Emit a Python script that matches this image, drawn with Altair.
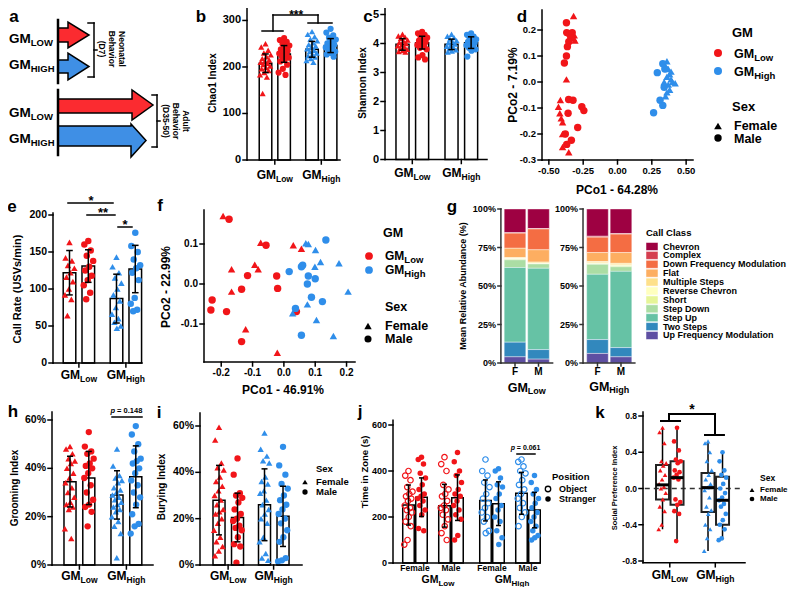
import altair as alt
import pandas as pd

FONT = "Liberation Sans"
RED = "#F11519"
BLUE = "#2F8EEA"
RED_ARROW = "#FB2B30"
BLUE_ARROW = "#3F8FE5"

# ---------------- data ----------------
GROUPS = ["Low", "High"]
SEXES = ["F", "M"]

chao_LF = [250, 243, 236, 230, 226, 222, 218, 215, 212, 210, 208, 205, 202, 199, 196, 192, 188, 183, 178, 143]
chao_LM = [262, 258, 254, 250, 246, 242, 238, 235, 232, 229, 226, 223, 220, 216, 212, 205, 196, 188, 183]
chao_HF = [276, 270, 265, 260, 256, 252, 248, 245, 242, 239, 236, 233, 230, 227, 224, 221, 218, 214, 210]
chao_HM = [282, 274, 268, 263, 259, 255, 251, 248, 245, 242, 239, 236, 233, 230, 227, 222]
chao_means = [208, 228, 238, 246]
chao_errs = [20, 18, 17, 15]

shan_LF = [4.32, 4.26, 4.22, 4.18, 4.12, 4.08, 4.04, 4.0, 3.96, 3.92, 3.88, 3.84, 3.8, 3.76, 3.72, 3.7]
shan_LM = [4.4, 4.35, 4.3, 4.25, 4.2, 4.15, 4.1, 4.05, 4.0, 3.95, 3.9, 3.85, 3.8, 3.6, 3.52, 3.45]
shan_HF = [4.32, 4.25, 4.2, 4.15, 4.1, 4.06, 4.02, 3.98, 3.94, 3.9, 3.86, 3.82, 3.78, 3.74, 3.7]
shan_HM = [4.35, 4.3, 4.24, 4.18, 4.14, 4.1, 4.06, 4.02, 3.98, 3.94, 3.9, 3.85, 3.8, 3.75, 3.55]
shan_means = [3.97, 4.03, 3.97, 4.03]
shan_errs = [0.2, 0.22, 0.18, 0.2]

d_low_x = [-0.32, -0.372, -0.37, -0.35, -0.33, -0.315, -0.34, -0.32, -0.31, -0.355, -0.365, -0.372, -0.387,
           -0.372, -0.416, -0.356, -0.324, -0.26, -0.245, -0.43, -0.42, -0.41, -0.40, -0.36, -0.29, -0.40,
           -0.38, -0.336, -0.37, -0.40, -0.355]
d_low_y = [0.254, 0.228, 0.19, 0.185, 0.19, 0.18, 0.17, 0.168, 0.16, 0.155, 0.136, 0.10, 0.073, 0.01, -0.069,
           -0.067, -0.07, -0.095, -0.11, -0.095, -0.12, -0.14, -0.155, -0.12, -0.175, -0.20, -0.20, -0.224,
           -0.24, -0.25, -0.27]
d_low_sex = ["F", "M", "M", "M", "M", "F", "M", "F", "F", "M", "M", "M", "M", "F", "F", "M", "M", "M", "M", "F",
             "F", "F", "F", "M", "M", "F", "M", "M", "M", "F", "F"]
d_high_x = [0.29, 0.36, 0.35, 0.37, 0.38, 0.36, 0.39, 0.40, 0.42, 0.37, 0.38, 0.36, 0.35, 0.34, 0.345, 0.33,
            0.31, 0.33, 0.263, 0.39, 0.34]
d_high_y = [0.036, 0.08, 0.06, 0.05, 0.03, 0.02, 0.01, 0.0, -0.005, -0.01, -0.03, -0.04, -0.055, -0.02, 0.05,
            0.07, -0.07, -0.09, -0.118, 0.04, 0.0]
d_high_sex = ["M", "F", "F", "F", "F", "F", "F", "F", "F", "F", "F", "F", "F", "M", "M", "M", "M", "M", "M", "F", "F"]

call_LF = [163, 142, 138, 132, 128, 122, 116, 110, 100, 92, 86, 64]
call_LM = [165, 160, 152, 145, 138, 130, 125, 118, 112, 105, 95, 86]
call_HF = [143, 130, 122, 115, 108, 100, 92, 84, 75, 66, 60, 55, 50, 47]
call_HM = [176, 158, 150, 140, 132, 128, 122, 112, 88, 80, 72, 70]
call_means = [122, 131, 87, 127]
call_errs = [30, 22, 33, 32]

f_low_x = [-0.194, -0.175, -0.074, -0.057, 0.03, 0.056, -0.167, -0.093, -0.082, -0.116, -0.023, -0.135, -0.02,
           -0.167, -0.229, -0.233, -0.183, -0.122, -0.135, -0.021, 0.04]
f_low_y = [0.17, 0.162, 0.103, 0.097, 0.097, 0.088, 0.037, 0.048, 0.037, 0.021, 0.02, -0.013, -0.011, -0.019,
           -0.04, -0.065, -0.069, -0.113, -0.144, -0.172, -0.069]
f_low_sex = ["F", "M", "F", "M", "F", "F", "F", "F", "F", "M", "M", "M", "M", "F", "M", "M", "M", "F", "M", "F", "M"]
f_high_x = [0.134, 0.07, 0.078, 0.101, 0.117, 0.176, 0.056, 0.06, 0.099, 0.017, 0.078, 0.1, 0.075, 0.205, 0.088,
            0.123, 0.075, 0.037, 0.028, 0.104, 0.056, 0.158]
f_high_y = [0.11, 0.102, 0.1, 0.085, 0.055, 0.052, 0.043, 0.047, 0.043, 0.031, 0.02, 0.013, 0.0, -0.019, -0.033,
            -0.044, -0.051, -0.061, -0.073, -0.09, -0.128, -0.13]
f_high_sex = ["M", "F", "F", "F", "F", "F", "M", "M", "F", "M", "M", "M", "M", "F", "M", "M", "F", "M", "F", "F",
              "M", "F"]

CLASSES = ["Chevron", "Complex", "Down Frequency Modulation", "Flat", "Multiple Steps", "Reverse Chevron",
           "Short", "Step Down", "Step Up", "Two Steps", "Up Frequency Modulation"]
g_low_F = [15.4, 0.3, 9.8, 6.0, 0.7, 0.3, 0.5, 5.0, 48.5, 9.5, 4.0]
g_low_M = [12.7, 0.3, 13.5, 8.0, 0.7, 0.2, 0.3, 2.8, 52.8, 6.2, 2.5]
g_high_F = [17.7, 0.6, 10.0, 5.8, 0.9, 0.4, 0.5, 6.5, 42.4, 9.0, 6.2]
g_high_M = [16.0, 0.3, 12.0, 7.0, 1.0, 0.4, 0.8, 3.0, 49.5, 6.0, 4.0]
PALETTE = ["#9E0142", "#D53E4F", "#F46D43", "#FDAE61", "#FEE08B", "#FFFFBF", "#E6F598", "#ABDDA4", "#66C2A5",
           "#3288BD", "#5E4FA2"]

groom_LF = [0.49, 0.48, 0.46, 0.44, 0.43, 0.42, 0.40, 0.38, 0.36, 0.34, 0.32, 0.30, 0.28, 0.26, 0.25, 0.24, 0.23, 0.15, 0.11]
groom_LM = [0.55, 0.49, 0.47, 0.46, 0.44, 0.42, 0.41, 0.40, 0.38, 0.36, 0.33, 0.30, 0.27, 0.25, 0.24, 0.22, 0.16]
groom_HF = [0.48, 0.41, 0.37, 0.36, 0.35, 0.34, 0.32, 0.31, 0.30, 0.29, 0.28, 0.27, 0.26, 0.25, 0.24, 0.23, 0.22,
            0.20, 0.18, 0.16, 0.13, 0.03]
groom_HM = [0.575, 0.54, 0.50, 0.47, 0.44, 0.43, 0.42, 0.40, 0.38, 0.35, 0.33, 0.30, 0.28, 0.25, 0.21, 0.17, 0.16, 0.13]
groom_means = [0.345, 0.36, 0.29, 0.365]
groom_errs = [0.105, 0.11, 0.10, 0.128]

bury_LF = [0.595, 0.54, 0.44, 0.42, 0.41, 0.38, 0.36, 0.34, 0.32, 0.30, 0.28, 0.26, 0.24, 0.23, 0.22, 0.20, 0.18,
           0.15, 0.12, 0.10, 0.08, 0.06, 0.04]
bury_LM = [0.46, 0.39, 0.31, 0.30, 0.29, 0.27, 0.24, 0.22, 0.20, 0.19, 0.17, 0.16, 0.15, 0.12, 0.09, 0.08, 0.01]
bury_HF = [0.57, 0.50, 0.47, 0.45, 0.44, 0.38, 0.36, 0.35, 0.32, 0.31, 0.28, 0.26, 0.24, 0.22, 0.20, 0.18, 0.12,
           0.10, 0.05, 0.03, 0.02]
bury_HM = [0.51, 0.43, 0.39, 0.35, 0.33, 0.30, 0.28, 0.26, 0.24, 0.22, 0.20, 0.18, 0.15, 0.12, 0.10, 0.03, 0.02, 0.015]
bury_means = [0.28, 0.205, 0.26, 0.21]
bury_errs = [0.15, 0.105, 0.155, 0.13]

zone_FLO = [400, 380, 360, 330, 310, 300, 290, 280, 270, 250, 240, 230, 220, 200, 180, 160, 100, 80]
zone_FLS = [460, 450, 430, 390, 370, 340, 320, 300, 290, 280, 270, 250, 230, 210, 150, 140]
zone_MLO = [460, 430, 400, 340, 320, 300, 290, 270, 250, 240, 230, 210, 190, 160, 130, 100]
zone_MLS = [480, 440, 400, 380, 350, 320, 300, 290, 270, 250, 230, 210, 190, 120, 100]
zone_FHO = [450, 400, 380, 350, 330, 300, 280, 260, 240, 220, 200, 180, 140, 130]
zone_FHS = [410, 400, 370, 340, 330, 300, 280, 250, 230, 200, 180, 140, 110, 80]
zone_MHO = [450, 440, 420, 400, 390, 360, 340, 320, 300, 280, 260, 240, 220, 200, 160]
zone_MHS = [380, 350, 320, 300, 280, 260, 240, 220, 200, 180, 160, 140, 120, 110, 100]
zone_means = [252, 286, 249, 284, 272, 258, 303, 230]
zone_errs = [87, 84, 93, 99, 89, 95, 91, 77]

spi_LF = [0.67, 0.62, 0.50, 0.30, 0.28, 0.25, 0.20, 0.15, 0.10, 0.05, 0.02, 0.0, -0.05, -0.12, -0.20, -0.25, -0.40, -0.45]
spi_LM = [0.67, 0.52, 0.42, 0.32, 0.30, 0.28, 0.20, 0.18, 0.15, 0.12, 0.10, -0.12, -0.15, -0.18, -0.25, -0.28, -0.58]
spi_HF = [0.52, 0.50, 0.40, 0.30, 0.20, 0.15, 0.10, 0.05, 0.01, -0.02, -0.10, -0.20, -0.24, -0.28, -0.40, -0.45,
          -0.55, -0.69]
spi_HM = [0.40, 0.30, 0.20, 0.15, 0.12, 0.05, 0.0, -0.05, -0.10, -0.13, -0.17, -0.20, -0.28, -0.35, -0.40, -0.45,
          -0.55, -0.57]
spi_q1 = [-0.12, -0.18, -0.26, -0.40]
spi_med = [0.04, 0.12, 0.01, -0.13]
spi_q3 = [0.26, 0.30, 0.17, 0.13]
spi_lo = [-0.45, -0.58, -0.69, -0.57]
spi_hi = [0.67, 0.67, 0.52, 0.40]

# ---------------- helpers ----------------
OFF = 8
GMW = 1.611
SUBW = {"Low": 2.0, "High": 2.222, "LOW": 2.333, "HIGH": 2.5}
SHAPES = alt.Scale(domain=["F", "M"], range=["triangle-up", "circle"])
COLORS = alt.Scale(domain=["Low", "High"], range=[RED, BLUE])


def jitter(n, width):
    return [((k * 0.6180339887 + 0.5) % 1.0 - 0.5) * width for k in range(n)]


class Panel:
    def __init__(self, xdom, xrng, ydom, yrng):
        self.xdom, self.xrng, self.ydom, self.yrng = xdom, xrng, ydom, yrng
        self.xs = alt.Scale(domain=list(xdom), range=[xrng[0] - OFF, xrng[1] - OFF], nice=False, zero=False)
        self.ys = alt.Scale(domain=list(ydom), range=[yrng[0] - OFF, yrng[1] - OFF], nice=False, zero=False)
        self.kx = abs(xrng[1] - xrng[0]) / abs(xdom[1] - xdom[0])
        self.ky = abs(yrng[1] - yrng[0]) / abs(ydom[1] - ydom[0])
        self.layers = []

    def vx(self, p):
        return self.xdom[0] + (p - self.xrng[0]) * (self.xdom[1] - self.xdom[0]) / (self.xrng[1] - self.xrng[0])

    def vy(self, p):
        return self.ydom[0] + (p - self.yrng[0]) * (self.ydom[1] - self.ydom[0]) / (self.yrng[1] - self.yrng[0])

    def enc(self, xf="x", yf="y"):
        return dict(x=alt.X(f"{xf}:Q", scale=self.xs, axis=None), y=alt.Y(f"{yf}:Q", scale=self.ys, axis=None))

    def segs(self, rows, color="black", sw=1.5, dash=None, cap="square"):
        df = pd.DataFrame(rows, columns=["x", "x2", "y", "y2"])
        mk = dict(color=color, strokeWidth=sw, strokeCap=cap)
        if dash:
            mk["strokeDash"] = dash
        self.layers.append(alt.Chart(df).mark_rule(**mk).encode(**self.enc(), x2="x2:Q", y2="y2:Q"))

    def text(self, rows, size, align="center", baseline="middle", angle=0, dx=0, dy=0, weight="bold",
             style="normal", color="black"):
        df = pd.DataFrame(rows, columns=["x", "y", "t"])
        self.layers.append(alt.Chart(df).mark_text(
            font=FONT, fontSize=size, fontWeight=weight, fontStyle=style, align=align, baseline=baseline,
            angle=angle, dx=dx, dy=dy, color=color).encode(**self.enc(), text="t:N"))

    def ptext(self, px, py, t, size, **kw):
        self.text([(self.vx(px), self.vy(py), t)], size, **kw)

    def gm(self, u, cy, sub, fs, sfs, anchor="center"):
        gw = GMW * fs
        tot = gw + SUBW[sub] * sfs
        start = -tot / 2 if anchor == "center" else 0
        yb = self.vy(cy + 0.36 * fs)
        self.text([(u, yb, "GM")], fs, align="left", baseline="alphabetic", dx=start)
        self.text([(u, yb, sub)], sfs, align="left", baseline="alphabetic", dx=start + gw, dy=0.32 * sfs)

    def stars(self, u, cy, t, fs=13):
        self.text([(u, self.vy(cy + 0.57 * fs), t)], fs, baseline="alphabetic")

    def pval(self, u, cy, t, fs=7.5):
        w = (0.611 + 0.278 + 0.584 + 0.278 + 2.502) * fs
        self.text([(u, self.vy(cy), "p")], fs, align="left", dx=-w / 2, style="italic")
        self.text([(u, self.vy(cy), "= " + t)], fs, align="left", dx=-w / 2 + 0.889 * fs)

    def yaxis(self, x0, lo, hi, ticks, labels, fs, tick=4, gap=2, color="black", sw=1.5):
        tl = tick / self.kx
        rows = [(x0, x0, lo, hi)] + [(x0 - tl, x0, t, t) for t in ticks]
        self.segs(rows, color=color, sw=sw)
        self.text([(x0, t, l) for t, l in zip(ticks, labels)], fs, align="right", dx=-(tick + gap))

    def xaxis(self, y0, lo, hi, ticks=(), labels=None, fs=10, tick=4, gap=2, color="black", sw=1.5):
        tl = tick / self.ky
        rows = [(lo, hi, y0, y0)] + [(t, t, y0, y0 - tl) for t in ticks]
        self.segs(rows, color=color, sw=sw)
        if labels:
            self.text([(t, y0, l) for t, l in zip(ticks, labels)], fs, baseline="top", dy=tick + gap)

    def bars(self, us, means, hw, base=0, sw=1.5):
        df = pd.DataFrame({"x": [u - hw for u in us], "x2": [u + hw for u in us],
                           "y": [base] * len(us), "y2": means})
        self.layers.append(alt.Chart(df).mark_rect(fill="white", stroke="black", strokeWidth=sw).encode(
            **self.enc(), x2="x2:Q", y2="y2:Q"))

    def errbars(self, us, means, errs, cw, sw=1.5):
        rows = []
        for u, m, e in zip(us, means, errs):
            rows += [(u, u, m - e, m + e), (u - cw, u + cw, m - e, m - e), (u - cw, u + cw, m + e, m + e)]
        self.segs(rows, sw=sw, cap="butt")

    def points(self, xv, yv, gms, sexes, size, filled=True, sw=1.2, shape=None):
        df = pd.DataFrame({"x": xv, "y": yv, "gm": gms, "sex": sexes})
        mk = dict(filled=filled, size=size, opacity=1, strokeWidth=sw)
        enc = dict(**self.enc(), color=alt.Color("gm:N", scale=COLORS, legend=None))
        if shape:
            mk["shape"] = shape
        else:
            enc["shape"] = alt.Shape("sex:N", scale=SHAPES, legend=None)
        self.layers.append(alt.Chart(df).mark_point(**mk).encode(**enc))

    def sym(self, px, py, shape, color, size, filled=True):
        df = pd.DataFrame({"x": [px], "y": [py]})
        self.layers.append(alt.Chart(df).mark_point(shape=shape, color=color, size=size, filled=filled,
                                                    opacity=1, strokeWidth=1.3).encode(**self.enc()))

    def arrow(self, x0, xh, xt, bt, bb, ht, hb, color):
        mid = (ht + hb) / 2
        df = pd.DataFrame({"x": [x0, xh, xh, xt], "y": [bt, bt, ht, mid], "y2": [bb, bb, hb, mid]})
        self.layers.append(alt.Chart(df).mark_area(color=color, stroke="black", strokeWidth=1.5, opacity=1,
                                                   orient="vertical", interpolate="linear").encode(
            **self.enc(), y2="y2:Q"))

    def chart(self):
        return alt.layer(*self.layers)


def bar_panel(P, sets, centers, means, errs, hw, cw, jw, psize):
    P.bars(centers, means, hw)
    for (vals, gm, sex), u in zip(sets, centers):
        P.points([u + j for j in jitter(len(vals), jw)], vals, [gm] * len(vals), [sex] * len(vals), psize)
    P.errbars(centers, means, errs, cw)


C4 = [0, 0.4, 1, 1.4]

# ---------------- page-level annotations & panel a ----------------
PG = Panel((0, 800), (0, 800), (0, 595), (0, 595))
for letter, lx, ly in [("a", 14, 17), ("b", 201, 17), ("c", 368, 17), ("d", 522, 17), ("e", 12, 207),
                       ("f", 160, 206), ("g", 452, 207), ("h", 13, 412), ("i", 159, 413), ("j", 360, 412),
                       ("k", 600, 413)]:
    PG.ptext(lx, ly, letter, 17)

PG.arrow(58, 68, 89, 28, 42, 22, 48, RED_ARROW)
PG.arrow(58, 68, 89, 60, 73, 53, 80, BLUE_ARROW)
PG.arrow(58, 132, 153, 99, 113, 90, 120, RED_ARROW)
PG.arrow(58, 131, 146, 126, 146, 124, 157, BLUE_ARROW)
PG.segs([(58, 58, 20, 83), (58, 58, 90, 155)], sw=2.5)
PG.segs([(94, 94, 23, 77), (88, 94, 23, 23), (88, 94, 77, 77), (94, 97, 50, 50),
         (157, 157, 95, 147), (152, 157, 95, 95), (152, 157, 147, 147), (157, 160, 121, 121)], sw=1.5)
for cy, sub in [(38, "LOW"), (64, "HIGH"), (112, "LOW"), (138, "HIGH")]:
    PG.gm(9, cy, sub, 13.5, 9.5, anchor="left")
for px, t in [(122, "Neonatal"), (112, "Behavior"), (102, "(D7)")]:
    PG.ptext(px, 49, t, 8.5, angle=90)
for px, t in [(186, "Adult"), (176, "Behavior"), (166, "(D35-50)")]:
    PG.ptext(px, 121, t, 8.5, angle=90)

# legend d
PG.ptext(732, 33, "GM", 13, align="left")
PG.sym(718, 53, "circle", RED, 65)
PG.sym(718, 71, "circle", BLUE, 65)
PG.gm(734, 53, "Low", 12.5, 9.5, anchor="left")
PG.gm(734, 71, "High", 12.5, 9.5, anchor="left")
PG.ptext(732, 107, "Sex", 13, align="left")
PG.sym(718, 126, "triangle-up", "black", 60)
PG.sym(718, 138, "circle", "black", 55)
PG.ptext(734, 126, "Female", 12.5, align="left")
PG.ptext(734, 139, "Male", 12.5, align="left")

# legend f
PG.ptext(383, 233, "GM", 12.5, align="left")
PG.sym(369, 256, "circle", RED, 60)
PG.sym(369, 270, "circle", BLUE, 60)
PG.gm(385, 256, "Low", 12, 9.5, anchor="left")
PG.gm(385, 270, "High", 12, 9.5, anchor="left")
PG.ptext(385, 307, "Sex", 12.5, align="left")
PG.sym(368, 326, "triangle-up", "black", 55)
PG.sym(368, 339, "circle", "black", 50)
PG.ptext(385, 326, "Female", 12.5, align="left")
PG.ptext(385, 339, "Male", 12.5, align="left")

# legend g title
PG.ptext(646, 233, "Call Class", 9.5, align="left")

# legend i
PG.ptext(316, 469, "Sex", 9.5, align="left")
PG.sym(305, 482, "triangle-up", "black", 30)
PG.sym(305, 492, "circle", "black", 28)
PG.ptext(316, 482, "Female", 9.5, align="left")
PG.ptext(316, 492, "Male", 9.5, align="left")

# legend j
PG.ptext(552, 477, "Position", 9.5, align="left")
PG.sym(548, 489, "circle", "black", 30, filled=False)
PG.sym(548, 499, "circle", "black", 30)
PG.ptext(559, 489, "Object", 9, align="left")
PG.ptext(559, 499, "Stranger", 9, align="left")

# legend k
PG.ptext(760, 478, "Sex", 8.5, align="left")
PG.sym(752, 490, "triangle-up", "black", 24)
PG.sym(752, 499, "circle", "black", 22)
PG.ptext(760, 490, "Female", 8, align="left")
PG.ptext(760, 499, "Male", 8, align="left")

# ---------------- panel b ----------------
Pb = Panel((-0.398, 1.602), (247, 340), (0, 330), (160, 6.5))
bar_panel(Pb, [(chao_LF, "Low", "F"), (chao_LM, "Low", "M"), (chao_HF, "High", "F"), (chao_HM, "High", "M")],
          C4, chao_means, chao_errs, 0.135, 0.07, 0.24, 38)
Pb.yaxis(-0.398, 0, 330, [0, 100, 200, 300], ["0", "100", "200", "300"], 11)
Pb.xaxis(0, -0.398, 1.602, [0.2, 1.2])
Pb.gm(0.2, 175, "Low", 12, 8.5)
Pb.gm(1.2, 175, "High", 12, 8.5)
Pb.ptext(213, 83, "Chao1 Index", 10, angle=270)
vy = Pb.vy
Pb.segs([(-0.075, 0.376, vy(31), vy(31)), (0.161, 0.161, vy(31), vy(15)), (0.161, 1.129, vy(15), vy(15)),
         (1.129, 1.129, vy(15), vy(23)), (0.914, 1.43, vy(23), vy(23))], sw=1.5)
Pb.stars(0.66, 12, "***", 12)

# ---------------- panel c ----------------
Pc = Panel((-0.357, 1.724), (385, 487), (0, 5.25), (159.5, 7.25))
bar_panel(Pc, [(shan_LF, "Low", "F"), (shan_LM, "Low", "M"), (shan_HF, "High", "F"), (shan_HM, "High", "M")],
          C4, shan_means, shan_errs, 0.133, 0.065, 0.22, 38)
Pc.yaxis(-0.357, 0, 5.25, [0, 1, 2, 3, 4, 5], ["0", "1", "2", "3", "4", "5"], 11)
Pc.xaxis(0, -0.357, 1.724, [0.2, 1.2])
Pc.gm(0.2, 173, "Low", 12, 8.5)
Pc.gm(1.2, 173, "High", 12, 8.5)
Pc.ptext(363, 83, "Shannon Index", 10, angle=270)

# ---------------- panel d ----------------
Pd = Panel((-0.55, 0.55), (542, 693), (-0.3, 0.277), (160, 10))
Pd.points(d_low_x, d_low_y, ["Low"] * len(d_low_x), d_low_sex, 55)
Pd.points(d_high_x, d_high_y, ["High"] * len(d_high_x), d_high_sex, 55)
Pd.yaxis(-0.55, -0.3, 0.277, [0.2, 0.1, 0.0, -0.1, -0.2, -0.3], ["0.2", "0.1", "0.0", "-0.1", "-0.2", "-0.3"], 9.5)
Pd.xaxis(-0.3, -0.55, 0.55, [-0.5, -0.25, 0.0, 0.25, 0.5], ["-0.50", "-0.25", "0.00", "0.25", "0.50"], 9.5)
Pd.ptext(617, 190, "PCo1 - 64.28%", 12)
Pd.ptext(513, 85, "PCo2 - 7.19%", 12, angle=270)

# ---------------- panel e ----------------
Pe = Panel((-0.351, 1.543), (53, 142), (0, 200), (363, 215))
bar_panel(Pe, [(call_LF, "Low", "F"), (call_LM, "Low", "M"), (call_HF, "High", "F"), (call_HM, "High", "M")],
          C4, call_means, call_errs, 0.134, 0.07, 0.22, 42)
Pe.yaxis(-0.351, 0, 202.7, [0, 50, 100, 150, 200], ["0", "50", "100", "150", "200"], 10.5)
Pe.xaxis(0, -0.351, 1.543, [0.2, 1.2])
Pe.gm(0.2, 375, "Low", 12, 8.5)
Pe.gm(1.2, 375, "High", 12, 8.5)
Pe.ptext(18, 289, "Call Rate (USVs/min)", 11, angle=270)
vy = Pe.vy
Pe.segs([(-0.032, 0.926, vy(203), vy(203)), (0.372, 0.968, vy(215), vy(215)), (1.032, 1.33, vy(227), vy(227))])
Pe.stars(0.457, 198, "*")
Pe.stars(0.713, 210, "**")
Pe.stars(1.18, 222, "*")

# ---------------- panel f ----------------
Pf = Panel((-0.255, 0.227), (204, 355), (-0.195, 0.185), (362, 210))
Pf.points(f_low_x, f_low_y, ["Low"] * len(f_low_x), f_low_sex, 55)
Pf.points(f_high_x, f_high_y, ["High"] * len(f_high_x), f_high_sex, 55)
Pf.yaxis(-0.255, -0.195, 0.185, [0.1, 0.0, -0.1], ["0.1", "0.0", "-0.1"], 10)
Pf.xaxis(-0.195, -0.255, 0.227, [-0.2, -0.1, 0.0, 0.1, 0.2], ["-0.2", "-0.1", "0.0", "0.1", "0.2"], 10)
Pf.ptext(283, 390, "PCo1 - 46.91%", 12)
Pf.ptext(166, 287, "PCo2 - 22.99%", 12, angle=270)

# ---------------- panel g ----------------
Pg = Panel((-0.6, 5.1), (500.9, 634.85), (0, 100), (363, 209))
g_centers = [0, 1, 3.51, 4.51]
g_rows = []
for bar, u, vals in zip(["LF", "LM", "HF", "HM"], g_centers, [g_low_F, g_low_M, g_high_F, g_high_M]):
    for i, (cls, v) in enumerate(zip(CLASSES, vals)):
        g_rows.append({"bar": bar, "x": u - 0.46, "x2": u + 0.46, "cls": cls, "ord": len(CLASSES) - i, "v": v})
g_df = pd.DataFrame(g_rows)
Pg.layers.append(
    alt.Chart(g_df).transform_stack(stack="v", as_=["v0", "v1"], groupby=["bar"],
                                    sort=[alt.SortField("ord", order="ascending")])
    .mark_rect(stroke="white", strokeWidth=0.4)
    .encode(x=alt.X("x:Q", scale=Pg.xs, axis=None), x2="x2:Q",
            y=alt.Y("v0:Q", scale=Pg.ys, axis=None), y2="v1:Q",
            color=alt.Color("cls:N", scale=alt.Scale(domain=CLASSES, range=PALETTE), legend=None)))
for x0, x1 in [(-0.6, 1.6), (2.894, 5.1)]:
    Pg.yaxis(x0, 0, 100, [0, 25, 50, 75, 100], ["0%", "25%", "50%", "75%", "100%"], 9, tick=3, color="#333333")
for lo, hi, ts in [(-0.6, 1.6, [0, 1]), (2.894, 5.1, [3.51, 4.51])]:
    Pg.xaxis(0, lo, hi, ts, ["F", "M"], 10, tick=3, gap=1, color="#333333")
Pg.gm(0.5, 387, "Low", 12.5, 9)
Pg.gm(4.01, 386, "High", 12.5, 9)
Pg.ptext(463, 286, "Mean Relative Abundance (%)", 9, angle=270)

leg_df = pd.DataFrame({"cls": CLASSES})
leg_y = alt.Scale(type="band", domain=CLASSES, range=[242.5 - OFF, 339.5 - OFF], paddingInner=0.1, paddingOuter=0)
g_legend = alt.layer(
    alt.Chart(leg_df).mark_rect(stroke="white", strokeWidth=0.5).encode(
        x=alt.value(646 - OFF), x2=alt.value(658 - OFF),
        y=alt.Y("cls:N", scale=leg_y, axis=None),
        color=alt.Color("cls:N", scale=alt.Scale(domain=CLASSES, range=PALETTE), legend=None)),
    alt.Chart(leg_df).mark_text(align="left", baseline="middle", font=FONT, fontSize=9, fontWeight="bold").encode(
        x=alt.value(663 - OFF), y=alt.Y("cls:N", scale=leg_y, axis=None), text="cls:N"),
)

# ---------------- panel h ----------------
Ph = Panel((-0.383, 1.766), (52, 153), (0, 0.6), (565, 420))
bar_panel(Ph, [(groom_LF, "Low", "F"), (groom_LM, "Low", "M"), (groom_HF, "High", "F"), (groom_HM, "High", "M")],
          C4, groom_means, groom_errs, 0.128, 0.064, 0.22, 40)
Ph.yaxis(-0.383, 0, 0.633, [0, 0.2, 0.4, 0.6], ["0%", "20%", "40%", "60%"], 10.5)
Ph.xaxis(0, -0.383, 1.766, [0.2, 1.2])
Ph.gm(0.2, 576, "Low", 12, 8.5)
Ph.gm(1.2, 576, "High", 12, 8.5)
Ph.ptext(15, 488, "Grooming Index", 10, angle=270)
Ph.segs([(0.894, 1.532, Ph.vy(417), Ph.vy(417))])
Ph.pval(1.2, 411, "0.148")

# ---------------- panel i ----------------
Pi = Panel((-0.418, 1.824), (200, 302), (0, 0.6), (565, 426))
bar_panel(Pi, [(bury_LF, "Low", "F"), (bury_LM, "Low", "M"), (bury_HF, "High", "F"), (bury_HM, "High", "M")],
          [0, 0.407, 1, 1.407], bury_means, bury_errs, 0.132, 0.066, 0.22, 40)
Pi.yaxis(-0.418, 0, 0.656, [0, 0.2, 0.4, 0.6], ["0%", "20%", "40%", "60%"], 10.5)
Pi.xaxis(0, -0.418, 1.824, [0.2, 1.2])
Pi.gm(0.2, 576, "Low", 12, 8.5)
Pi.gm(1.2, 576, "High", 12, 8.5)
Pi.ptext(162, 487, "Burying Index", 10, angle=270)

# ---------------- panel j ----------------
Pj = Panel((-0.201, 1.708), (393, 540), (0, 600), (563, 425))
j_centers = [0, 0.169, 0.4675, 0.6365, 1, 1.169, 1.4675, 1.6365]
j_sets = [zone_FLO, zone_FLS, zone_MLO, zone_MLS, zone_FHO, zone_FHS, zone_MHO, zone_MHS]
j_gm = ["Low"] * 4 + ["High"] * 4
Pj.bars(j_centers, zone_means, 0.0747)
for k, (vals, u, gmv) in enumerate(zip(j_sets, j_centers, j_gm)):
    xv = [u + j for j in jitter(len(vals), 0.11)]
    Pj.points(xv, vals, [gmv] * len(vals), ["M"] * len(vals), 30, filled=(k % 2 == 1), shape="circle")
Pj.errbars(j_centers, zone_means, zone_errs, 0.032)
Pj.yaxis(-0.201, 0, 621, [0, 200, 400, 600], ["0", "200", "400", "600"], 9)
Pj.xaxis(0, -0.201, 1.708)
Pj.text([(0.0845, Pj.vy(568), "Female"), (0.552, Pj.vy(568), "Male"),
         (1.0845, Pj.vy(568), "Female"), (1.552, Pj.vy(568), "Male")], 8.5)
Pj.gm(Pj.vx(438), 579.5, "Low", 10.5, 8)
Pj.gm(Pj.vx(512), 579.5, "High", 10.5, 8)
Pj.ptext(365, 472, "Time in Zone (s)", 9.5, angle=270)
Pj.segs([(1.409, 1.643, Pj.vy(454), Pj.vy(454))])
Pj.pval(1.52, 448, "0.061", 7)

# ---------------- panel k ----------------
Pk = Panel((-0.429, 1.813), (643, 745), (-0.8, 0.8), (561, 416))
k_centers = [0, 0.319, 1, 1.319]
hwk = 0.143
Pk.segs([(-0.39, 1.77, 0, 0)], color="#333333", sw=1.5, dash=[5, 4], cap="butt")
wh = []
for u, lo, q1, q3, hi in zip(k_centers, spi_lo, spi_q1, spi_q3, spi_hi):
    wh += [(u, u, lo, q1), (u, u, q3, hi)]
Pk.segs(wh, sw=1.5, cap="butt")
k_box = pd.DataFrame({"x": [u - hwk for u in k_centers], "x2": [u + hwk for u in k_centers],
                      "y": spi_q1, "y2": spi_q3})
Pk.layers.append(alt.Chart(k_box).mark_rect(fill="white", fillOpacity=0, stroke="#222222", strokeWidth=2).encode(
    **Pk.enc(), x2="x2:Q", y2="y2:Q"))
for (vals, gmv, sex), u in zip([(spi_LF, "Low", "F"), (spi_LM, "Low", "M"), (spi_HF, "High", "F"),
                                (spi_HM, "High", "M")], k_centers):
    Pk.points([u + j for j in jitter(len(vals), 0.17)], vals, [gmv] * len(vals), [sex] * len(vals), 22)
Pk.segs([(u - hwk, u + hwk, m, m) for u, m in zip(k_centers, spi_med)], sw=3, cap="butt")
Pk.yaxis(-0.429, -0.82, 0.845, [-0.8, -0.4, 0.0, 0.4, 0.8], ["-0.8", "-0.4", "0.0", "0.4", "0.8"], 8.5)
Pk.xaxis(-0.82, -0.429, 1.813, [0.16, 1.16])
Pk.gm(0.16, 575, "Low", 12, 8.5)
Pk.gm(1.16, 575, "High", 12, 8.5)
Pk.ptext(615, 488, "Social Preference Index", 7.5, angle=270)
vy = Pk.vy
Pk.segs([(-0.033, 0.385, vy(421), vy(421)), (0.143, 0.143, vy(421), vy(414)), (0.143, 1.154, vy(414), vy(414)),
         (1.154, 1.154, vy(414), vy(435)), (0.934, 1.35, vy(435), vy(435))], sw=2)
Pk.stars(0.65, 406, "*", 14)

# ---------------- assemble ----------------
panels = [PG.chart(), Pb.chart(), Pc.chart(), Pd.chart(), Pe.chart(), Pf.chart(), Pg.chart(), g_legend,
          Ph.chart(), Pi.chart(), Pj.chart(), Pk.chart()]
chart = (
    alt.layer(*panels)
    .resolve_scale(x="independent", y="independent", color="independent", shape="independent")
    .properties(width=784, height=579, padding=0, autosize=alt.AutoSizeParams(type="none"), background="white")
    .configure_view(stroke=None)
)
chart.save("out.html", embed_options={"renderer": "svg", "actions": False})
